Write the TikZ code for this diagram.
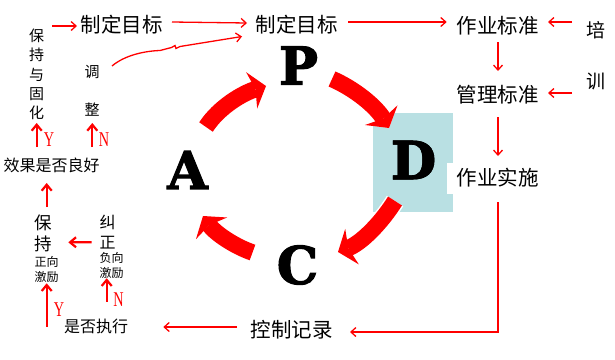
\documentclass[tikz,border=0pt]{standalone}
\usepackage{fontspec}
\newfontfamily\cjk{Noto Sans CJK SC}
\newfontfamily\pdca{DejaVu Serif}[UprightFont=* Bold, FakeBold=2.2]
\newfontfamily\yn{Liberation Serif}[FakeStretch=0.68]
\usetikzlibrary{arrows.meta}
\definecolor{tealbg}{RGB}{185,224,227}
\begin{document}
\begin{tikzpicture}[x=1pt,y=-1pt,
  t20/.style={inner sep=0pt, font=\cjk\fontsize{20.5}{24}\selectfont},
  t19/.style={inner sep=0pt, font=\cjk\fontsize{19}{22}\selectfont},
  t16/.style={inner sep=0pt, font=\cjk\fontsize{16}{19.5}\selectfont, align=center},
  t15/.style={inner sep=0pt, font=\cjk\fontsize{15}{19.25}\selectfont, align=center},
  t17/.style={inner sep=0pt, font=\cjk\fontsize{17.5}{21}\selectfont, align=center},
  t12/.style={inner sep=0pt, font=\cjk\fontsize{12}{14.75}\selectfont, align=center},
  lab/.style={inner sep=0pt, text=red, font=\yn\fontsize{21}{24}\selectfont},
  big/.style={inner sep=0pt, font=\pdca\fontsize{52}{60}\selectfont},
  arr/.style={draw=red, line width=1.3pt, -{Straight Barb[length=5pt,width=9pt]}},
  tarr/.style={draw=red, line width=2.2pt, -{Straight Barb[length=6pt,width=10pt]}},
  cyc/.style={draw=red, line width=16.5pt, -{Stealth[length=15pt,width=38pt,inset=4pt,line width=0pt]}},
  cycw/.style={draw=white, line width=19.5pt, -{Stealth[length=17pt,width=43pt,inset=4pt,line width=0pt]}}
]
\useasboundingbox (0,0) rectangle (615,359);

% light blue box behind D
\fill[tealbg] (373,113) rectangle (453,212);

% text nodes
\node[t20] (zd1) at (121.5,25) {制定目标};
\node[t20] (zd2) at (296.5,25) {制定目标};
\node[t20] (zybz) at (497.5,26) {作业标准};
\node[t20] (glbz) at (497.5,95) {管理标准};
\node[t20, fill=white, minimum width=101pt, minimum height=31pt] (zyss) at (497.5,178) {作业实施};
\node[t20] (kzjl) at (291.5,330) {控制记录};
\node[t19] (pei) at (596,30) {培};
\node[t19] (xun) at (596,81) {训};
\node[t15] (bcg) at (36.5,74.5) {保\\持\\与\\固\\化};
\node[t15] (tz) at (92,72) {调};
\node[t15] (zheng) at (92,110) {整};
\node[lab] (y1) at (49,140) {Y};
\node[lab] (n1) at (104,140) {N};
\node[t16] (xgsf) at (51.5,165.5) {效果是否良好};
\node[t17] (bc) at (43.5,233) {保\\持};
\node[t12] (zxjl) at (46.5,269.5) {正向\\激励};
\node[t16] (jz) at (107.5,232.25) {纠\\正};
\node[t12] (fxjl) at (111.5,265.25) {负向\\激励};
\node[lab] (y2) at (59,310) {Y};
\node[lab] (n2) at (118.5,300) {N};
\node[t16] (sfzx) at (96,326) {是否执行};

% PDCA letters
\node[big] (P) at (298.5,65.5) {P};
\node[big] (D) at (413.5,160) {D};
\node[big] (C) at (297.5,265) {C};
\node[big] (A) at (187.5,170) {A};

% cycle arrows
\coordinate (ap0) at (206,127); \coordinate (ap1) at (266,86);
\coordinate (pd0) at (332,79);  \coordinate (pd1) at (389,128);
\coordinate (dc0) at (395,201); \coordinate (dc1) at (338,252);
\coordinate (ca0) at (252.5,252.5); \coordinate (ca1) at (203,216);
\foreach \s in {cycw,cyc}{
  \draw[\s] (ap0) .. controls (219,107) and (243,93) .. (ap1);
  \draw[\s] (pd0) .. controls (355,89) and (376,106.5) .. (pd1);
  \draw[\s] (dc0) .. controls (381.7,222.3) and (361.5,243) .. (dc1);
  \draw[\s] (ca0) .. controls (233.5,246) and (214.4,232.4) .. (ca1);
}
\node[big] at (D) {D};

% thin connectors
\draw[arr] ([shift={(15.5,-48.5)}]bcg.center) -- ([shift={(-44.5,1)}]zd1.center);
\draw[arr] ([shift={(50.5,-3)}]zd1.center) -- ([shift={(-49.5,-2)}]zd2.center);
\draw[arr] ([shift={(20,-6)}]tz.center) .. controls (125,55) and (145,51) .. (160,50.5)
  -- (171.5,47.5) -- (175,45.5) -- (176,48.5) -- (180,46.5) -- ([shift={(-54.5,11.5)}]zd2.center);
\draw[arr] ([shift={(51.8,-3)}]zd2.center) -- ([shift={(-50.8,-4)}]zybz.center);
\draw[arr] ([shift={(-24,-8)}]pei.center) -- ([shift={(50.5,-4)}]zybz.center);
\draw[arr] ([shift={(-24,12)}]xun.center) -- ([shift={(50.5,-2)}]glbz.center);
\draw[arr] ([shift={(0.5,16)}]zybz.center) -- ([shift={(0.5,-24)}]glbz.center);
\draw[arr] ([shift={(0.5,22)}]glbz.center) -- ([shift={(0.5,-22)}]zyss.center);
\draw[arr] ([shift={(0.5,24)}]zyss.center) |- ([shift={(58.5,2)}]kzjl.center);
\draw[arr] ([shift={(-54.5,-3)}]kzjl.center) -- ([shift={(67.3,1)}]sfzx.center);

% thick Y/N connectors
\draw[tarr] ([shift={(-49.3,0.7)}]sfzx.center) -- ([shift={(0.2,13.8)}]zxjl.center);
\draw[tarr] ([shift={(10.7,-24.3)}]sfzx.center) -- ([shift={(-4.8,13)}]fxjl.center);
\draw[tarr] ([shift={(-15.8,10)}]jz.center) -- ([shift={(24.8,9.3)}]bc.center);
\draw[tarr] ([shift={(3.2,-26)}]bc.center) -- ([shift={(-4.8,17.5)}]xgsf.center);
\draw[tarr] ([shift={(-14.8,-18.5)}]xgsf.center) -- ([shift={(0.2,48.5)}]bcg.center);
\draw[tarr] ([shift={(40.8,-18.5)}]xgsf.center) -- ([shift={(0.3,13)}]zheng.center);
\end{tikzpicture}
\end{document}
